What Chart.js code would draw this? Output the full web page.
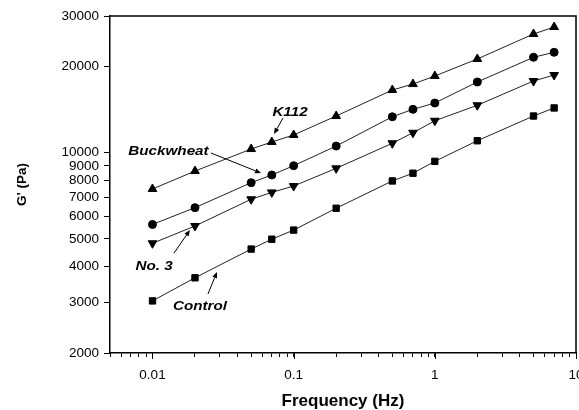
<!DOCTYPE html>
<html><head><meta charset="utf-8">
<script src="https://cdn.jsdelivr.net/npm/chart.js@4.4.0/dist/chart.umd.min.js"></script>
<style>html,body{margin:0;padding:0;overflow:hidden;background:#fff}#wrap{width:600px;height:410px}</style>
</head><body><div id="wrap"><canvas id="c" width="600" height="410"></canvas></div>
<script>
// ---- data ----
const frequencies = [0.01, 0.02, 0.05, 0.07, 0.1, 0.2, 0.5, 0.7, 1, 2, 5, 7];
const k112      = [7470, 8630, 10300, 10900, 11530, 13430, 16550, 17360, 18520, 21240, 25960, 27460];
const buckwheat = [5620, 6430, 7860, 8360, 9010, 10550, 13350, 14170, 14910, 17650, 21530, 22410];
const no3       = [4830, 5550, 6880, 7270, 7650, 8820, 10790, 11740, 12930, 14640, 17790, 18670];
const control   = [3040, 3660, 4610, 4990, 5370, 6400, 7970, 8480, 9330, 11010, 13430, 14330];
const yTicks = [2000, 3000, 4000, 5000, 6000, 7000, 8000, 9000, 10000, 20000, 30000];
const xMajorTicks = [0.01, 0.1, 1, 10];
const xMinorTicks = [0.005, 0.006, 0.007, 0.008, 0.009,
                     0.02, 0.03, 0.04, 0.05, 0.06, 0.07, 0.08, 0.09,
                     0.2, 0.3, 0.4, 0.5, 0.6, 0.7, 0.8, 0.9,
                     2, 3, 4, 5, 6, 7, 8, 9];
// callouts in data coordinates: label position, arrow start, arrow tip
const labelNames = ['K112', 'Buckwheat', 'No. 3', 'Control'];
const labelAt    = [[0.0942, 13870], [0.01298, 10137], [0.01025, 4023], [0.0217, 2917]];
const arrowFrom  = [[0.0840, 13215], [0.02597, 9975], [0.01420, 4464], [0.02471, 3213]];
const arrowTo    = [[0.0726, 11620], [0.0587, 8493], [0.01843, 5373], [0.02863, 3834]];

const pts = vals => frequencies.map((f, i) => ({x: f, y: vals[i]}));
const FONT = "'Liberation Sans', Arial, sans-serif";

function ds(label, vals, style, radius, rot) {
  return {
    label, data: pts(vals), showLine: true,
    borderColor: '#222', borderWidth: 1,
    pointStyle: style, pointRadius: radius, pointHoverRadius: radius,
    pointRotation: rot || 0,
    pointBackgroundColor: '#000', pointBorderColor: '#000', pointBorderWidth: 1
  };
}

const framePlugin = {
  id: 'frame',
  afterDraw(chart) {
    const {ctx, chartArea: a, scales} = chart;
    ctx.save();
    ctx.strokeStyle = '#000';
    ctx.lineWidth = 1.5;
    ctx.beginPath();
    ctx.moveTo(a.left, a.top); ctx.lineTo(a.right, a.top); ctx.lineTo(a.right, a.bottom);
    ctx.stroke();
    // longer major ticks on x
    ctx.lineWidth = 1;
    xMajorTicks.forEach(v => {
      const px = Math.round(scales.x.getPixelForValue(v)) + 0.5;
      ctx.beginPath(); ctx.moveTo(px, a.bottom); ctx.lineTo(px, a.bottom + 6); ctx.stroke();
    });
    // callouts
    ctx.fillStyle = '#000';
    ctx.font = "italic bold 13px " + FONT;
    ctx.textAlign = 'center';
    ctx.textBaseline = 'middle';
    labelNames.forEach((name, i) => {
      const tx = scales.x.getPixelForValue(labelAt[i][0]);
      const ty = scales.y.getPixelForValue(labelAt[i][1]);
      ctx.save();
      ctx.translate(tx, ty); ctx.scale(1.17, 1);
      ctx.fillText(name, 0, 0);
      ctx.restore();
      const x1 = scales.x.getPixelForValue(arrowFrom[i][0]);
      const y1 = scales.y.getPixelForValue(arrowFrom[i][1]);
      const x2 = scales.x.getPixelForValue(arrowTo[i][0]);
      const y2 = scales.y.getPixelForValue(arrowTo[i][1]);
      const ang = Math.atan2(y2 - y1, x2 - x1);
      const hl = 6, hw = 2.5;
      ctx.beginPath(); ctx.moveTo(x1, y1);
      ctx.lineTo(x2 - hl * Math.cos(ang), y2 - hl * Math.sin(ang)); ctx.stroke();
      ctx.beginPath();
      ctx.moveTo(x2, y2);
      ctx.lineTo(x2 - hl * Math.cos(ang) + hw * Math.sin(ang), y2 - hl * Math.sin(ang) - hw * Math.cos(ang));
      ctx.lineTo(x2 - hl * Math.cos(ang) - hw * Math.sin(ang), y2 - hl * Math.sin(ang) + hw * Math.cos(ang));
      ctx.closePath(); ctx.fill();
    });
    ctx.restore();
  }
};

new Chart(document.getElementById('c'), {
  type: 'scatter',
  data: {
    datasets: [
      ds('K112', k112, 'triangle', 5, 0),
      ds('Buckwheat', buckwheat, 'circle', 4, 0),
      ds('No. 3', no3, 'triangle', 5, 180),
      ds('Control', control, 'rect', 4.5, 0)
    ]
  },
  options: {
    responsive: false, animation: false,
    layout: {padding: {top: 16, right: 24, left: 0, bottom: 0}},
    plugins: {legend: {display: false}, tooltip: {enabled: false}},
    scales: {
      x: {
        type: 'logarithmic', position: 'bottom', min: 0.005, max: 10,
        afterBuildTicks: s => { s.ticks = xMajorTicks.concat(xMinorTicks).sort((a, b) => a - b).map(v => ({value: v})); },
        afterFit: s => { s.height = 57; },
        grid: {drawOnChartArea: false, tickLength: 4, tickColor: '#000', tickWidth: 1},
        border: {color: '#000', width: 1.5},
        ticks: {autoSkip: false, maxRotation: 0, minRotation: 0, padding: 10, color: '#000',
                font: {family: FONT, size: 13.5},
                callback: v => xMajorTicks.includes(v) ? String(v) : ''},
        title: {display: true, text: 'Frequency (Hz)', color: '#000',
                font: {family: FONT, size: 17, weight: 'bold', lineHeight: 1},
                padding: {top: 0, bottom: 0}}
      },
      y: {
        type: 'logarithmic', position: 'left', min: 2000, max: 30000,
        afterBuildTicks: s => { s.ticks = yTicks.map(v => ({value: v})); },
        afterFit: s => { s.width = 110; },
        grid: {drawOnChartArea: false, tickLength: 6, tickColor: '#000', tickWidth: 1},
        border: {color: '#000', width: 1.5},
        ticks: {autoSkip: false, padding: 5, color: '#000',
                font: {family: FONT, size: 13.5},
                callback: v => String(v)},
        title: {display: true, text: "G' (Pa)", color: '#000',
                font: {family: FONT, size: 13.5, weight: 'bold', lineHeight: 1},
                padding: {top: 16, bottom: 0}}
      }
    }
  },
  plugins: [framePlugin]
});
</script></body></html>
